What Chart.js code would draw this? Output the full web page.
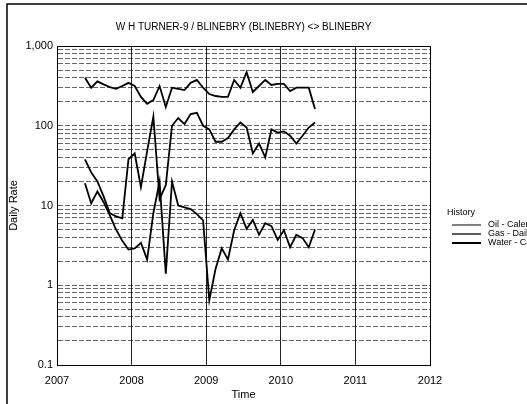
<!DOCTYPE html>
<html>
<head>
<meta charset="utf-8">
<title>W H TURNER-9 / BLINEBRY</title>
<script src="https://cdn.jsdelivr.net/npm/chart.js@4.4.1/dist/chart.umd.min.js"></script>
<style>
    html, body { margin: 0; padding: 0; background: #fff; }
    #wrap { width: 527px; height: 404px; }
</style>
</head>
<body>
<div id="wrap"><canvas id="rateChart" width="527" height="404"></canvas></div>
<script>
const months = [
    '2007-05', '2007-06', '2007-07', '2007-08', '2007-09', '2007-10', '2007-11', '2007-12',
    '2008-01', '2008-02', '2008-03', '2008-04', '2008-05', '2008-06', '2008-07', '2008-08',
    '2008-09', '2008-10', '2008-11', '2008-12', '2009-01', '2009-02', '2009-03', '2009-04',
    '2009-05', '2009-06', '2009-07', '2009-08', '2009-09', '2009-10', '2009-11', '2009-12',
    '2010-01', '2010-02', '2010-03', '2010-04', '2010-05', '2010-06'
];
const oilRate = [19, 10.6, 15, 11, 7.5, 5, 3.6, 2.8, 2.9, 3.4, 2.1, 8, 20, 1.4, 20, 10, 9.5, 9, 7.8, 6.5,
    0.65, 1.6, 2.9, 2.1, 4.9, 8, 5.1, 6.6, 4.3, 6, 5.5, 3.7, 4.9, 3, 4.3, 3.9, 3, 5];
const gasRate = [400, 300, 360, 330, 305, 290, 315, 345, 315, 230, 188, 210, 315, 172, 300, 290, 280, 345, 375, 300,
    250, 236, 230, 230, 375, 300, 470, 265, 315, 375, 325, 335, 335, 272, 300, 300, 300, 162];
const waterRate = [38, 26, 20, 13, 8, 7.3, 6.9, 38, 45, 17, 48, 130, 12, 18, 100, 125, 105, 140, 145, 100,
    90, 63, 63, 70, 90, 110, 95, 45, 60, 40, 90, 82, 85, 75, 60, 75, 95, 110];

const seriesLabels = ['Oil - Calendar Day', 'Gas - Daily', 'Water - Calendar Day'];
const yearTicks = [2007, 2008, 2009, 2010, 2011, 2012];
const rateTicks = [0.1, 0.2, 0.3, 0.4, 0.5, 0.6, 0.7, 0.8, 0.9,
    1, 2, 3, 4, 5, 6, 7, 8, 9,
    10, 20, 30, 40, 50, 60, 70, 80, 90,
    100, 200, 300, 400, 500, 600, 700, 800, 900, 1000];
const rateLabels = { 0.1: '0.1', 1: '1', 10: '10', 100: '100', 1000: '1,000' };

// month string -> decimal year (middle of the month)
function toYear(m) {
    const [y, mo] = m.split('-').map(Number);
    return y + (mo - 0.5) / 12;
}

function toPoints(values) {
    return values.map((v, i) => ({ x: toYear(months[i]), y: v }));
}

Chart.defaults.font.family = '"Liberation Sans", Arial, sans-serif';
Chart.defaults.color = '#000';

// page frame + plot box
const framePlugin = {
    id: 'framePlugin',
    beforeDraw(chart) {
        const ctx = chart.ctx;
        ctx.save();
        ctx.fillStyle = '#fff';
        ctx.fillRect(0, 0, chart.width, chart.height);
        ctx.strokeStyle = '#000';
        ctx.lineWidth = 1.5;
        ctx.beginPath();
        ctx.moveTo(7, chart.height);
        ctx.lineTo(7, 4);
        ctx.lineTo(chart.width, 4);
        ctx.stroke();
        ctx.restore();
    },
    afterDraw(chart) {
        const a = chart.chartArea;
        const ctx = chart.ctx;
        ctx.save();
        ctx.strokeStyle = '#000';
        ctx.lineWidth = 1;
        ctx.strokeRect(a.left + 0.5, a.top + 0.5, a.right - a.left, a.bottom - a.top);
        ctx.restore();
    }
};

// legend on the right with "History" heading
const historyLegend = {
    id: 'historyLegend',
    afterDraw(chart) {
        const ctx = chart.ctx;
        ctx.save();
        ctx.font = '9px "Liberation Sans", Arial, sans-serif';
        ctx.fillStyle = '#000';
        ctx.textBaseline = 'middle';
        ctx.fillText('History', 447, 213);
        chart.data.datasets.forEach((ds, i) => {
            const y = 225 + i * 9;
            ctx.strokeStyle = '#000';
            ctx.lineWidth = ds.legendWidth;
            ctx.beginPath();
            ctx.moveTo(452, y);
            ctx.lineTo(481, y);
            ctx.stroke();
            ctx.fillText(ds.label, 488, y);
        });
        ctx.restore();
    }
};

new Chart(document.getElementById('rateChart'), {
    type: 'line',
    data: {
        datasets: [
            { label: seriesLabels[0], data: toPoints(oilRate), legendWidth: 1 },
            { label: seriesLabels[1], data: toPoints(gasRate), legendWidth: 1.3 },
            { label: seriesLabels[2], data: toPoints(waterRate), legendWidth: 2 }
        ].map(ds => Object.assign(ds, {
            borderColor: '#000',
            borderWidth: 1.8,
            pointRadius: 0,
            tension: 0,
            fill: false
        }))
    },
    options: {
        responsive: false,
        animation: false,
        layout: { padding: { left: 0, right: 97, top: 0, bottom: 0 } },
        plugins: {
            legend: { display: false },
            tooltip: { enabled: false },
            title: {
                display: true,
                text: 'W H TURNER-9 / BLINEBRY (BLINEBRY) <> BLINEBRY',
                fullSize: false,
                font: { size: 10, weight: 'normal' },
                padding: { top: 21, bottom: 13 }
            }
        },
        scales: {
            x: {
                type: 'linear',
                min: 2007,
                max: 2012,
                afterBuildTicks: s => { s.ticks = yearTicks.map(v => ({ value: v })); },
                afterFit: s => { s.height = 39; },
                ticks: {
                    font: { size: 11 },
                    padding: 9,
                    callback: v => String(v)
                },
                grid: { color: '#222', lineWidth: 1, drawTicks: false },
                border: { color: '#000' },
                title: {
                    display: true,
                    text: 'Time',
                    font: { size: 11 },
                    padding: { top: 0, bottom: 2 }
                }
            },
            y: {
                type: 'logarithmic',
                min: 0.1,
                max: 1000,
                afterBuildTicks: s => { s.ticks = rateTicks.map(v => ({ value: v })); },
                afterFit: s => { s.width = 57; },
                ticks: {
                    font: { size: 11 },
                    padding: 4,
                    autoSkip: false,
                    callback: v => rateLabels[v] || ''
                },
                grid: { color: 'rgba(0,0,0,0.6)', lineWidth: 1, drawTicks: false },
                border: { color: '#000', dash: [5, 2] },
                title: {
                    display: true,
                    text: 'Daily Rate',
                    font: { size: 11 },
                    padding: { top: 7, bottom: 0 }
                }
            }
        }
    },
    plugins: [framePlugin, historyLegend]
});
</script>
</body>
</html>
